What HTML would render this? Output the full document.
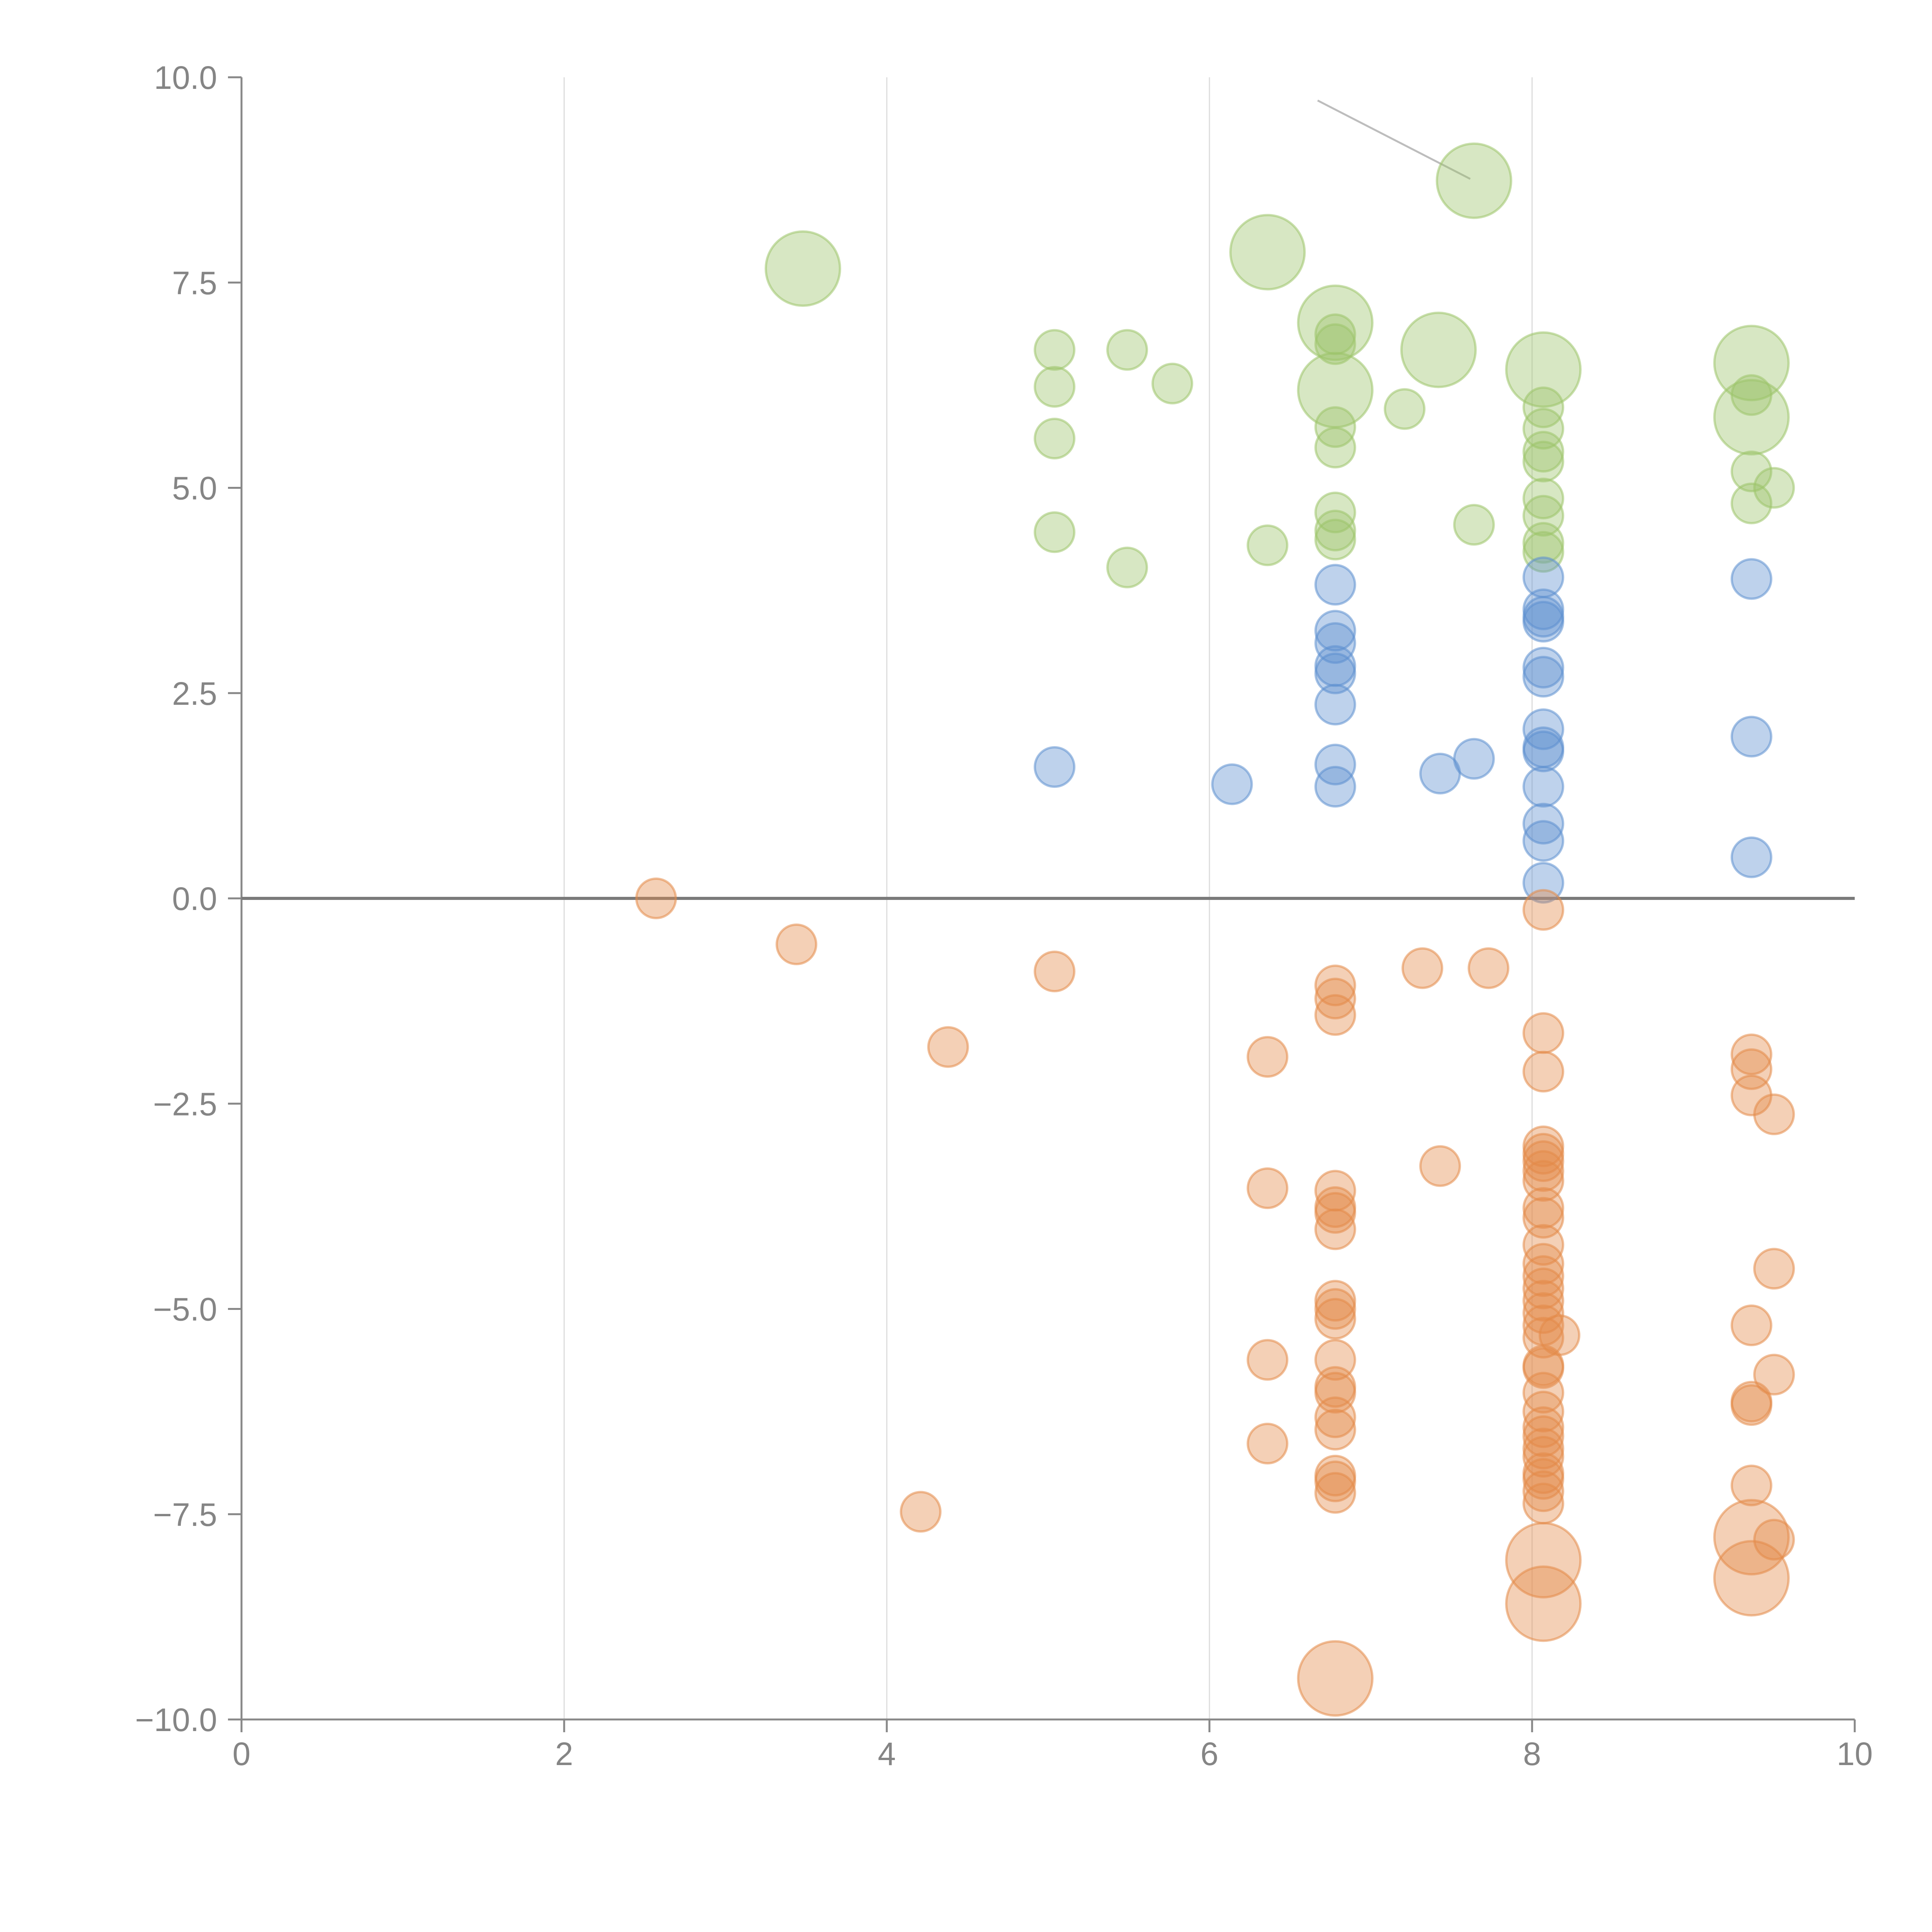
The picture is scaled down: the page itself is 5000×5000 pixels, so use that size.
<!DOCTYPE html>
<html><head><meta charset="utf-8"><style>html,body{margin:0;padding:0;background:#fff}svg{display:block}</style></head>
<body>
<svg id="chart" width="5000" height="5000" viewBox="0 0 5000 5000" xmlns="http://www.w3.org/2000/svg">
<g id="grid"></g>
<g id="axes"></g>
<g id="marks"></g>
</svg>
<script>
const xTicks=[0,2,4,6,8,10];
const yTicks=[10,7.5,5,2.5,0,-2.5,-5,-7.5,-10];
const yTickLabels=["10.0","7.5","5.0","2.5","0.0","\u22122.5","\u22125.0","\u22127.5","\u221210.0"];
const greenX=[3.48,6.36,7.64,6.78,6.78,7.42,8.07,9.36,9.36,5.04,5.04,5.04,5.04,5.49,5.77,5.49,6.36,7.21,7.64,6.78,6.78,6.78,6.78,6.78,6.78,6.78,8.07,8.07,8.07,8.07,8.07,8.07,8.07,8.07,9.36,9.36,9.36,9.50];
const greenY=[7.67,7.87,8.74,7.01,6.19,6.68,6.44,6.52,5.86,6.68,6.23,5.6,4.46,6.68,6.27,4.03,4.3,5.96,4.55,6.87,6.75,5.74,5.49,4.70,4.48,4.37,5.98,5.72,5.44,5.32,4.87,4.66,4.33,4.22,6.13,5.20,4.81,5.00];
const greenBig=[1,1,1,1,1,1,1,1,1,0,0,0,0,0,0,0,0,0,0,0,0,0,0,0,0,0,0,0,0,0,0,0,0,0,0,0,0,0];
const blueX=[5.04,6.14,7.43,7.64,6.78,6.78,6.78,6.78,6.78,6.78,6.78,6.78,8.07,8.07,8.07,8.07,8.07,8.07,8.07,8.07,8.07,8.07,8.07,8.07,8.07,9.36,9.36,9.36];
const blueY=[1.60,1.39,1.52,1.70,3.82,3.26,3.11,2.83,2.74,2.36,1.63,1.36,3.91,3.52,3.43,3.37,2.81,2.70,2.06,1.84,1.79,1.36,0.91,0.70,0.19,3.89,1.97,0.50];
const orangeX=[2.57,3.44,5.04,4.38,4.21,7.32,7.73,7.43,6.36,6.36,6.36,6.36,6.78,6.78,6.78,6.78,6.78,6.78,6.78,6.78,6.78,6.78,6.78,6.78,6.78,6.78,6.78,6.78,6.78,6.78,6.78,8.07,8.07,8.07,8.07,8.07,8.07,8.07,8.07,8.07,8.07,8.07,8.07,8.07,8.07,8.07,8.07,8.07,8.07,8.07,8.07,8.07,8.07,8.07,8.07,8.07,8.07,8.07,8.07,8.07,8.07,8.17,8.07,8.07,9.36,9.36,9.36,9.36,9.36,9.36,9.36,9.36,9.36,9.50,9.50,9.50,9.50];
const orangeY=[0,-0.56,-0.89,-1.81,-7.47,-0.85,-0.85,-3.26,-1.93,-3.53,-5.62,-6.64,-1.06,-1.22,-1.42,-3.56,-3.76,-3.83,-4.03,-4.90,-5.00,-5.12,-5.62,-5.95,-6.02,-6.32,-6.47,-7.03,-7.10,-7.24,-9.50,-0.14,-1.64,-2.11,-3.02,-3.11,-3.20,-3.32,-3.44,-3.77,-3.89,-4.22,-4.45,-4.60,-4.75,-4.90,-5.05,-5.20,-5.35,-5.69,-5.72,-6.02,-6.25,-6.44,-6.55,-6.70,-6.80,-7.00,-7.07,-7.22,-7.37,-5.32,-8.06,-8.59,-1.90,-2.08,-2.40,-5.20,-6.13,-6.17,-7.15,-7.78,-8.28,-2.63,-4.51,-5.80,-7.81];
const orangeBig=[0,0,0,0,0,0,0,0,0,0,0,0,0,0,0,0,0,0,0,0,0,0,0,0,0,0,0,0,0,0,1,0,0,0,0,0,0,0,0,0,0,0,0,0,0,0,0,0,0,0,0,0,0,0,0,0,0,0,0,0,0,0,1,1,0,0,0,0,0,0,0,1,1,0,0,0,0];

const X0=625,X1=4800,Y0=200,Y1=4450;
const sx=v=>X0+(v-0)/(10-0)*(X1-X0);
const sy=v=>Y0+(10-v)/20*(Y1-Y0);
const NS="http://www.w3.org/2000/svg";
function mk(tag,attrs,parent){const e=document.createElementNS(NS,tag);for(const k in attrs)e.setAttribute(k,attrs[k]);parent.appendChild(e);return e;}
const grid=document.getElementById('grid'),axes=document.getElementById('axes'),marks=document.getElementById('marks');

xTicks.forEach(t=>{
  if(t>0&&t<10){const g=mk('line',{x1:sx(t),x2:sx(t),y1:Y0,y2:Y1,stroke:'#dcdcdc','stroke-width':3},grid);
  
  }
  const tk=mk('line',{x1:sx(t),x2:sx(t),y1:Y1,y2:Y1+33,stroke:'#888','stroke-width':5},axes);
  
  
  const tx=mk('text',{x:sx(t),y:4568,'text-anchor':'middle','font-family':'Liberation Sans, sans-serif','font-size':84,fill:'#858585'},axes);
  tx.textContent=String(t);
  
  
});
yTicks.forEach((t,i)=>{
  const tk=mk('line',{x1:X0-35,x2:X0,y1:sy(t),y2:sy(t),stroke:'#888','stroke-width':5},axes);
  
  
  const tx=mk('text',{x:562,y:sy(t)+30,'text-anchor':'end','font-family':'Liberation Sans, sans-serif','font-size':84,fill:'#858585'},axes);
  tx.textContent=yTickLabels[i];
  
  
});
const ya=mk('line',{x1:X0,x2:X0,y1:Y0,y2:Y1,stroke:'#888','stroke-width':5},axes);


const xa=mk('line',{x1:X0,x2:X1,y1:Y1,y2:Y1,stroke:'#888','stroke-width':5},axes);


const zl=mk('line',{x1:X0,x2:X1,y1:sy(0),y2:sy(0),stroke:'#7a7a7a','stroke-width':8},axes);


const an=mk('line',{x1:3410,y1:260,x2:3805,y2:463,stroke:'#bdbdbd','stroke-width':5},axes);



function series(xs,ys,big,fill,stroke,name){
  xs.forEach((x,i)=>{
    const c=mk('circle',{cx:sx(x),cy:sy(ys[i]),r:(big&&big[i])?96:51,fill:fill,'fill-opacity':0.4,stroke:stroke,'stroke-opacity':0.55,'stroke-width':6},marks);
    
    
  });
}
series(greenX,greenY,greenBig,'#9cc46a','#9cc46a','green-point');
series(blueX,blueY,null,'#5d8fcf','#5d8fcf','blue-point');
series(orangeX,orangeY,orangeBig,'#e38a48','#e38a48','orange-point');
</script>
</body></html>
